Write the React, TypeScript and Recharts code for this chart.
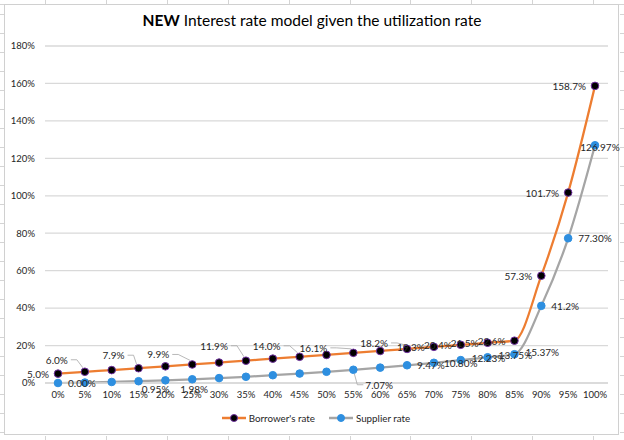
import React from 'react';
import { LineChart, Line, XAxis, YAxis, CartesianGrid, LabelList, Legend } from 'recharts';

const categories = ['0%', '5%', '10%', '15%', '20%', '25%', '30%', '35%', '40%', '45%', '50%', '55%', '60%', '65%', '70%', '75%', '80%', '85%', '90%', '95%', '100%'];
const borrowerRate = [5.0, 6.0, 6.9, 7.9, 8.9, 9.9, 10.9, 11.9, 13.0, 14.0, 15.0, 16.1, 17.1, 18.2, 19.3, 20.4, 21.5, 22.6, 57.3, 101.7, 158.7];
const supplierRate = [0.0, 0.24, 0.55, 0.95, 1.42, 1.98, 2.62, 3.33, 4.16, 5.04, 6.0, 7.07, 8.21, 9.47, 10.8, 12.23, 13.75, 15.37, 41.2, 77.3, 126.97];
const borrowerLabels = ['5.0%', '6.0%', null, '7.9%', null, '9.9%', null, '11.9%', null, '14.0%', null, '16.1%', null, '18.2%', '19.3%', '20.4%', '21.5%', '22.6%', '57.3%', '101.7%', '158.7%'];
const supplierLabels = ['0.00%', null, null, '0.95%', null, '1.98%', null, null, null, null, null, '7.07%', null, '9.47%', '10.80%', '12.23%', '13.75%', '15.37%', '41.2%', '77.30%', '126.97%'];
const yTicks = [0, 20, 40, 60, 80, 100, 120, 140, 160, 180];
const seriesNames = ["Borrower's rate", 'Supplier rate'];

const data = categories.map((c, i) => ({
  cat: c,
  borrower: borrowerRate[i],
  supplier: supplierRate[i],
  bl: borrowerLabels[i],
  sl: supplierLabels[i],
}));

const FONT = 'Lato, "Open Sans", sans-serif';
const ORANGE = '#ED7D31';
const GRAY = '#A5A5A5';
const BLUE = '#2E8FE0';
const TXT = '#262626';

type Place = { dx: number; dy: number; anchor: 'start' | 'middle' | 'end'; leader?: 'up' | 'down' };

const borrowerPlace: Record<number, Place> = {
  1: { dx: -17, dy: -12, anchor: 'end', leader: 'up' },
  3: { dx: -14, dy: -13, anchor: 'end', leader: 'up' },
  5: { dx: -23, dy: -10, anchor: 'end', leader: 'up' },
  7: { dx: -18, dy: -15, anchor: 'end', leader: 'up' },
  9: { dx: -19, dy: -11, anchor: 'end', leader: 'up' },
  11: { dx: -26, dy: -5, anchor: 'end', leader: 'up' },
  13: { dx: -19, dy: -6, anchor: 'end', leader: 'up' },
};
const borrowerDefault: Place = { dx: -9, dy: 0, anchor: 'end' };

const supplierPlace: Record<number, Place> = {
  3: { dx: 17, dy: 8, anchor: 'middle' },
  5: { dx: 2, dy: 10, anchor: 'middle' },
  11: { dx: 12, dy: 15, anchor: 'start', leader: 'down' },
  15: { dx: 11, dy: -2, anchor: 'start' },
  16: { dx: 11, dy: -2, anchor: 'start' },
  17: { dx: 11, dy: -2, anchor: 'start' },
  20: { dx: 5, dy: 2, anchor: 'middle' },
};
const supplierDefault: Place = { dx: 10, dy: 0, anchor: 'start' };

const makeLabel = (places: Record<number, Place>, def: Place) => (props: any) => {
  const { value, index } = props;
  if (value === null || value === undefined || value === '') return null;
  const px = props.x ?? props.viewBox?.x;
  const py = props.y ?? props.viewBox?.y;
  if (px === undefined || py === undefined) return null;
  const p = places[index] ?? def;
  const lx = px + p.dx;
  const ly = py + p.dy;
  let leader: React.ReactNode = null;
  if (p.leader === 'up') {
    const sx = lx + 3;
    const mx = Math.min(sx + 6, px - 4);
    leader = (
      <path d={`M${sx},${ly} H${mx} L${px - 2},${py - 4}`} fill="none" stroke="#A6A6A6" strokeWidth={0.8} />
    );
  } else if (p.leader === 'down') {
    leader = (
      <path d={`M${px + 1},${py + 4} L${px + 4},${ly} H${lx - 2}`} fill="none" stroke="#A6A6A6" strokeWidth={0.8} />
    );
  }
  return (
    <g>
      {leader}
      <text x={lx} y={ly} textAnchor={p.anchor} dominantBaseline="central" fontFamily={FONT} fontSize={10} fill={TXT}>
        {value}
      </text>
    </g>
  );
};

const renderLegend = () => (
  <div style={{ display: 'flex', justifyContent: 'center', gap: 14, fontFamily: FONT, fontSize: 9.8, color: TXT, alignItems: 'center' }}>
    <span style={{ display: 'flex', alignItems: 'center' }}>
      <svg width={24} height={10}>
        <line x1={0} y1={5} x2={24} y2={5} stroke={ORANGE} strokeWidth={2.5} />
        <circle cx={12} cy={5} r={3.5} fill="#000" stroke="#7030A0" strokeWidth={1} />
      </svg>
      <span style={{ marginLeft: 3 }}>{seriesNames[0]}</span>
    </span>
    <span style={{ display: 'flex', alignItems: 'center' }}>
      <svg width={24} height={10}>
        <line x1={0} y1={5} x2={24} y2={5} stroke={GRAY} strokeWidth={2.5} />
        <circle cx={12} cy={5} r={3.5} fill={BLUE} stroke={BLUE} strokeWidth={1} />
      </svg>
      <span style={{ marginLeft: 3 }}>{seriesNames[1]}</span>
    </span>
  </div>
);

const sheetCols = [45, 106, 167, 228, 289, 350, 410, 471, 532, 593];
const sheetRows = [14, 33, 52, 71, 90, 109, 128, 147, 166, 185, 204, 223, 242, 261, 280, 299, 318, 337, 356, 375, 394, 413, 432];

export default function App() {
  return (
    <div style={{ position: 'absolute', left: 0, top: 0, width: 624, height: 440, background: '#fff', overflow: 'hidden' }}>
      {sheetCols.map((x) => (
        <React.Fragment key={'c' + x}>
          <div style={{ position: 'absolute', left: x, top: 0, width: 1, height: 4, background: '#d4d4d4' }} />
          <div style={{ position: 'absolute', left: x, top: 436, width: 1, height: 4, background: '#d4d4d4' }} />
        </React.Fragment>
      ))}
      {sheetRows.map((y) => (
        <React.Fragment key={'r' + y}>
          <div style={{ position: 'absolute', left: 0, top: y, width: 4, height: 1, background: '#d4d4d4' }} />
          <div style={{ position: 'absolute', left: 620, top: y, width: 4, height: 1, background: '#d4d4d4' }} />
        </React.Fragment>
      ))}
      <div style={{ position: 'absolute', left: 0, top: 4, width: 624, height: 1, background: '#d4d4d4' }} />
      <div style={{ position: 'absolute', left: 4, top: 4, width: 615, height: 431, border: '1px solid #d0d0d0', boxSizing: 'border-box', background: '#fff' }} />
      <div style={{ position: 'absolute', left: 0, top: 11, width: 624, textAlign: 'center', fontFamily: FONT, fontSize: 15.5, color: '#000' }}>
        <b>NEW</b> Interest rate model given the utilization rate
      </div>
      <div style={{ position: 'absolute', left: 0, top: 0 }}>
        <LineChart width={624} height={440} data={data} margin={{ top: 46, right: 16, bottom: 27, left: 5 }}>
          <CartesianGrid vertical={false} stroke="#D9D9D9" strokeWidth={1.3} />
          <XAxis
            dataKey="cat"
            padding={{ left: 13, right: 13 }}
            interval={0}
            tickLine={false}
            axisLine={{ stroke: '#D9D9D9', strokeWidth: 1.3 }}
            tick={{ fontFamily: FONT, fontSize: 9.5, fill: TXT }}
            tickMargin={2}
            height={30}
          />
          <YAxis
            domain={[0, 180]}
            ticks={yTicks}
            tickFormatter={(v: number) => `${v}%`}
            axisLine={false}
            tickLine={false}
            tick={{ fontFamily: FONT, fontSize: 9.5, fill: TXT }}
            tickMargin={4}
            width={40}
          />
          <Legend verticalAlign="middle" align="center" layout="horizontal" content={renderLegend} wrapperStyle={{ top: 412, left: 4, width: 624 }} />
          <Line
            type="monotone"
            dataKey="supplier"
            name={seriesNames[1]}
            stroke={GRAY}
            strokeWidth={2.25}
            dot={{ r: 3.8, fill: BLUE, stroke: BLUE, strokeWidth: 1 }}
            isAnimationActive={false}
          >
            <LabelList dataKey="sl" content={makeLabel(supplierPlace, supplierDefault)} />
          </Line>
          <Line
            type="monotone"
            dataKey="borrower"
            name={seriesNames[0]}
            stroke={ORANGE}
            strokeWidth={2.25}
            dot={{ r: 3.8, fill: '#000', stroke: '#7030A0', strokeWidth: 1 }}
            isAnimationActive={false}
          >
            <LabelList dataKey="bl" content={makeLabel(borrowerPlace, borrowerDefault)} />
          </Line>
        </LineChart>
      </div>
    </div>
  );
}
